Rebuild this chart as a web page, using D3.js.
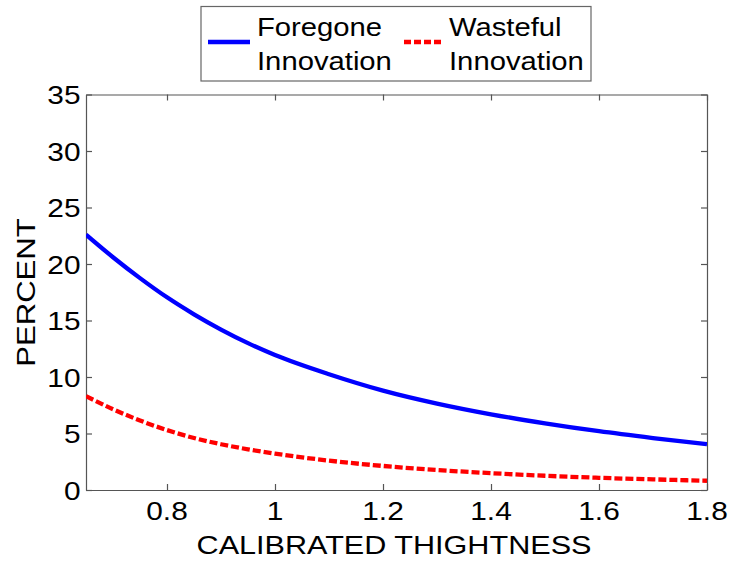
<!DOCTYPE html>
<html>
<head>
<meta charset="utf-8">
<script src="https://cdn.jsdelivr.net/npm/d3@7"></script>
<style>
  html, body { margin: 0; padding: 0; background: #fff; }
  svg { display: block; }
  text { font-family: "Liberation Sans", Arial, Helvetica, sans-serif; fill: #000; }
</style>
</head>
<body>
<svg id="chart" width="732" height="561"></svg>
<script>
// ---- data ----
const thightness = [0.65, 0.7, 0.75, 0.8, 0.85, 0.9, 0.95, 1.0, 1.1, 1.2, 1.3, 1.4, 1.5, 1.6, 1.7, 1.8];
const foregone   = [22.6, 20.6, 18.75, 17.05, 15.55, 14.2, 13.0, 11.95, 10.25, 8.8, 7.65, 6.7, 5.9, 5.2, 4.6, 4.05];
const wasteful   = [8.3, 7.15, 6.15, 5.3, 4.6, 4.05, 3.6, 3.22, 2.6, 2.13, 1.77, 1.49, 1.26, 1.08, 0.94, 0.82];
const xTicks = [0.8, 1.0, 1.2, 1.4, 1.6, 1.8];
const xTickLabels = ["0.8", "1", "1.2", "1.4", "1.6", "1.8"];
const yTicks = [0, 5, 10, 15, 20, 25, 30, 35];
const seriesNames = [["Foregone", "Innovation"], ["Wasteful", "Innovation"]];
const xTitle = "CALIBRATED THIGHTNESS";
const yTitle = "PERCENT";

// ---- layout ----
const L = 86, R = 707, T = 94.5, B = 490;
const FS = 25, SX = 1.17;
const axisColor = "#555";

const svg = d3.select("#chart");
const x = d3.scaleLinear().domain([0.65, 1.8]).range([L, R]);
const y = d3.scaleLinear().domain([0, 35]).range([B, T]);

function stretchedText(g, tx, ty, str, anchor, rot, fs, sx) {
  const gg = g.append("g").attr("transform", `translate(${tx},${ty})` + (rot ? ` rotate(${rot})` : "") + ` scale(${sx || SX},1)`);
  gg.append("text").attr("x", 0).attr("y", 0).attr("text-anchor", anchor)
    .style("font-size", (fs || FS) + "px").text(str);
  return gg;
}

// axes (box + inward ticks) via d3 axes
const tickLen = 6;
const gx = svg.append("g").attr("transform", `translate(0,${B})`)
  .call(d3.axisBottom(x).tickValues(xTicks).tickSize(-tickLen).tickSizeOuter(0).tickFormat(""));
const gxt = svg.append("g").attr("transform", `translate(0,${T})`)
  .call(d3.axisTop(x).tickValues(xTicks).tickSize(-tickLen).tickSizeOuter(0).tickFormat(""));
const gy = svg.append("g").attr("transform", `translate(${L},0)`)
  .call(d3.axisLeft(y).tickValues(yTicks).tickSize(-tickLen).tickSizeOuter(0).tickFormat(""));
const gyr = svg.append("g").attr("transform", `translate(${R},0)`)
  .call(d3.axisRight(y).tickValues(yTicks).tickSize(-tickLen).tickSizeOuter(0).tickFormat(""));
[gx, gxt, gy, gyr].forEach(g => {
  g.selectAll("path").attr("stroke", axisColor).attr("stroke-width", 1.2);
  g.selectAll("line").attr("stroke", axisColor).attr("stroke-width", 1.2);
});

// tick labels
const labels = svg.append("g");
xTicks.forEach((v, i) => stretchedText(labels, x(v), 520, xTickLabels[i], "middle", 0, 25.5));
yTicks.forEach(v => stretchedText(labels, 80.5, y(v) + 9.5, String(v), "end", 0, 25.5));

// axis titles
stretchedText(svg, 394, 554, xTitle, "middle", 0, 25.5, 1.2);
stretchedText(svg, 35, 292.5, yTitle, "middle", -90, 25.5, 1.22);

// lines
const line = d3.line().x(d => x(d[0])).y(d => y(d[1])).curve(d3.curveMonotoneX);
svg.append("clipPath").attr("id", "clip").append("rect")
  .attr("x", L).attr("y", T).attr("width", R - L).attr("height", B - T);
svg.append("path").datum(thightness.map((t, i) => [t, foregone[i]]))
  .attr("d", line).attr("fill", "none").attr("stroke", "#0000ff").attr("stroke-width", 4.3)
  .attr("clip-path", "url(#clip)");
svg.append("path").datum(thightness.map((t, i) => [t, wasteful[i]]))
  .attr("d", line).attr("fill", "none").attr("stroke", "#ff0000").attr("stroke-width", 4.3)
  .attr("stroke-dasharray", "8,3").attr("clip-path", "url(#clip)");

// legend
const lg = svg.append("g");
lg.append("rect").attr("x", 201).attr("y", 6.5).attr("width", 390).attr("height", 74.5)
  .attr("fill", "#fff").attr("stroke", "#666").attr("stroke-width", 1.2);
const legendItems = [
  { x0: 208, x1: 250, tx: 257, color: "#0000ff", dash: null, names: seriesNames[0] },
  { x0: 404, x1: 441, tx: 449, color: "#ff0000", dash: "7,3", names: seriesNames[1] }
];
legendItems.forEach(it => {
  const l = lg.append("line").attr("x1", it.x0).attr("x2", it.x1).attr("y1", 42).attr("y2", 42)
    .attr("stroke", it.color).attr("stroke-width", 4.3);
  if (it.dash) l.attr("stroke-dasharray", it.dash);
  stretchedText(lg, it.tx, 35.5, it.names[0], "start");
  stretchedText(lg, it.tx, 70, it.names[1], "start");
});
</script>
</body>
</html>
